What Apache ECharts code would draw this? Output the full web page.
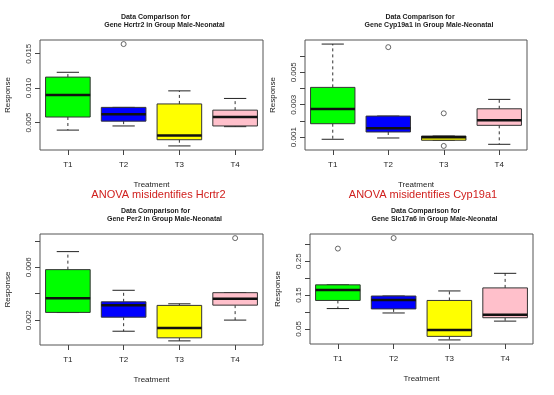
<!DOCTYPE html>
<html>
<head>
<meta charset="utf-8">
<script src="https://cdn.jsdelivr.net/npm/echarts@6/dist/echarts.min.js"></script>
<style>
html,body{margin:0;padding:0;background:#fff;}
#chart{width:554px;height:395px;}
</style>
</head>
<body>
<div id="chart"></div>
<script>
// ---------- data ----------
const categories = ['T1', 'T2', 'T3', 'T4'];
const boxColors = ['#00ff00', '#0000ff', '#ffff00', '#ffc0cb'];

// each row: [lower whisker, Q1, median, Q3, upper whisker]
const hcrtr2Stats = [
  [0.0039, 0.0058, 0.0090, 0.0116, 0.0123],
  [0.0045, 0.0052, 0.0062, 0.0072, 0.0072],
  [0.0016, 0.0025, 0.0031, 0.0077, 0.0096],
  [0.0044, 0.0045, 0.0058, 0.0068, 0.0085]
];
const hcrtr2Outliers = [[1, 0.0164]];
const hcrtr2Ticks = [0.005, 0.010, 0.015];
const hcrtr2TickLabels = ['0.005', '0.010', '0.015'];

const cyp19a1Stats = [
  [0.00087, 0.00183, 0.00274, 0.00407, 0.00674],
  [0.00095, 0.00132, 0.00155, 0.00230, 0.00230],
  [0.00081, 0.00081, 0.00099, 0.00107, 0.00107],
  [0.00056, 0.00173, 0.00204, 0.00275, 0.00333]
];
const cyp19a1Outliers = [[1, 0.00655], [2, 0.00247], [2, 0.00046]];
const cyp19a1Ticks = [0.001, 0.002, 0.003, 0.004, 0.005, 0.006];
const cyp19a1TickLabels = ['0.001', '', '0.003', '', '0.005', ''];

const per2Stats = [
  [0.00258, 0.00259, 0.00365, 0.00582, 0.00718],
  [0.00117, 0.00223, 0.00314, 0.00339, 0.00426],
  [0.00044, 0.00067, 0.00142, 0.00312, 0.00324],
  [0.00201, 0.00314, 0.00362, 0.00408, 0.00408]
];
const per2Outliers = [[3, 0.0082]];
const per2Ticks = [0.002, 0.004, 0.006, 0.008];
const per2TickLabels = ['0.002', '', '0.006', ''];

const slc17a6Stats = [
  [0.110, 0.134, 0.165, 0.180, 0.180],
  [0.097, 0.109, 0.135, 0.147, 0.147],
  [0.0175, 0.028, 0.047, 0.134, 0.162],
  [0.073, 0.083, 0.092, 0.171, 0.214]
];
const slc17a6Outliers = [[0, 0.287], [1, 0.318]];
const slc17a6Ticks = [0.05, 0.10, 0.15, 0.20, 0.25, 0.30];
const slc17a6TickLabels = ['0.05', '', '0.15', '', '0.25', ''];

const genes = ['Hcrtr2', 'Cyp19a1', 'Per2', 'Slc17a6'];
const groupName = 'Male-Neonatal';
const anovaNotes = ['ANOVA misidentifies Hcrtr2', 'ANOVA misidentifies Cyp19a1'];

// ---------- layout ----------
const panels = [
  {stats: hcrtr2Stats, out: hcrtr2Outliers, ticks: hcrtr2Ticks, labels: hcrtr2TickLabels,
   grid: {left: 40, top: 40, width: 223, height: 110}},
  {stats: cyp19a1Stats, out: cyp19a1Outliers, ticks: cyp19a1Ticks, labels: cyp19a1TickLabels,
   grid: {left: 305, top: 40, width: 222, height: 110}},
  {stats: per2Stats, out: per2Outliers, ticks: per2Ticks, labels: per2TickLabels,
   grid: {left: 40, top: 234, width: 223, height: 111}},
  {stats: slc17a6Stats, out: slc17a6Outliers, ticks: slc17a6Ticks, labels: slc17a6TickLabels,
   grid: {left: 310, top: 234, width: 223, height: 110}}
];

const FONT = 'Liberation Sans, Arial, sans-serif';
const grids = [], xAxes = [], yAxes = [], series = [], titles = [];

function renderBox(params, api) {
  const idx = api.value(0);
  const lo = api.coord([idx, api.value(1)]);
  const q1 = api.coord([idx, api.value(2)]);
  const md = api.coord([idx, api.value(3)]);
  const q3 = api.coord([idx, api.value(4)]);
  const hi = api.coord([idx, api.value(5)]);
  const bw = api.size([1, 0])[0] * 0.8;
  const x = lo[0];
  const children = [];
  const dash = {stroke: '#333', lineWidth: 1, lineDash: [3, 3]};
  const solid = {stroke: '#222', lineWidth: 1};
  children.push({type: 'line', shape: {x1: x, y1: q3[1], x2: x, y2: hi[1]}, style: dash});
  children.push({type: 'line', shape: {x1: x, y1: q1[1], x2: x, y2: lo[1]}, style: dash});
  children.push({type: 'line', shape: {x1: x - bw / 4, y1: hi[1], x2: x + bw / 4, y2: hi[1]}, style: solid});
  children.push({type: 'line', shape: {x1: x - bw / 4, y1: lo[1], x2: x + bw / 4, y2: lo[1]}, style: solid});
  children.push({type: 'rect', shape: {x: x - bw / 2, y: q3[1], width: bw, height: q1[1] - q3[1]},
    style: {fill: boxColors[idx], stroke: '#333', lineWidth: 1}});
  children.push({type: 'line', shape: {x1: x - bw / 2, y1: md[1], x2: x + bw / 2, y2: md[1]},
    style: {stroke: '#111', lineWidth: 2.5}});
  return {type: 'group', children: children};
}

panels.forEach((p, i) => {
  const g = p.grid;
  grids.push(Object.assign({show: true, borderColor: '#555', borderWidth: 1, backgroundColor: 'transparent',
    containLabel: false, outerBoundsMode: 'none'}, g));
  let all = [];
  p.stats.forEach(r => all = all.concat(r));
  p.out.forEach(o => all.push(o[1]));
  const lo = Math.min.apply(null, all), hi = Math.max.apply(null, all);
  const pad = (hi - lo) * 0.04;
  xAxes.push({
    gridIndex: i, type: 'category', data: categories, boundaryGap: true,
    axisLine: {show: false},
    axisTick: {show: true, alignWithLabel: true, length: 5, lineStyle: {color: '#444'}},
    axisLabel: {fontFamily: FONT, fontSize: 8, color: '#222', margin: 11},
    name: 'Treatment', nameLocation: 'middle', nameGap: 31,
    nameTextStyle: {fontFamily: FONT, fontSize: 8, color: '#222'}
  });
  const ticks = p.ticks, labels = p.labels;
  yAxes.push({
    gridIndex: i, type: 'value', min: lo - pad, max: hi + pad,
    splitLine: {show: false},
    axisLine: {show: false},
    axisTick: {show: true, length: 5, customValues: ticks, lineStyle: {color: '#444'}},
    axisLabel: {fontFamily: FONT, fontSize: 8, color: '#333', rotate: 90, margin: 7,
      customValues: ticks,
      formatter: function (v) {
        let best = 0, bd = Infinity;
        ticks.forEach((t, k) => { const d = Math.abs(t - v); if (d < bd) { bd = d; best = k; } });
        return labels[best];
      }},
    name: 'Response', nameLocation: 'middle', nameGap: 28, nameRotate: 90,
    nameTextStyle: {fontFamily: FONT, fontSize: 8, color: '#222'}
  });
  series.push({
    type: 'custom', xAxisIndex: i, yAxisIndex: i, renderItem: renderBox,
    data: p.stats.map((r, k) => [k].concat(r)), silent: true, z: 2
  });
  series.push({
    type: 'scatter', xAxisIndex: i, yAxisIndex: i, data: p.out, symbol: 'circle', symbolSize: 5,
    itemStyle: {color: 'rgba(0,0,0,0)', borderColor: '#444', borderWidth: 1}, silent: true, z: 3
  });
  const cx = g.left + g.width / 2;
  titles.push({text: 'Data Comparison for', left: cx - 1, top: g.top - 31, textAlign: 'center',
    textStyle: {fontFamily: FONT, fontSize: 7, fontWeight: 'bold', color: '#222'}});
  titles.push({text: 'Gene ' + genes[i] + ' in Group ' + groupName, left: cx + 8, top: g.top - 23, textAlign: 'center',
    textStyle: {fontFamily: FONT, fontSize: 7, fontWeight: 'bold', color: '#222'}});
  if (i < 2) {
    titles.push({text: anovaNotes[i], left: cx + 2, top: g.top + g.height + 34, textAlign: 'center',
      textStyle: {fontFamily: FONT, fontSize: 11, fontWeight: 'normal', color: '#d0201e'}});
  }
});

const chart = echarts.init(document.getElementById('chart'), null, {renderer: 'canvas'});
chart.setOption({
  animation: false,
  backgroundColor: '#fff',
  title: titles,
  grid: grids,
  xAxis: xAxes,
  yAxis: yAxes,
  series: series
});
</script>
</body>
</html>
